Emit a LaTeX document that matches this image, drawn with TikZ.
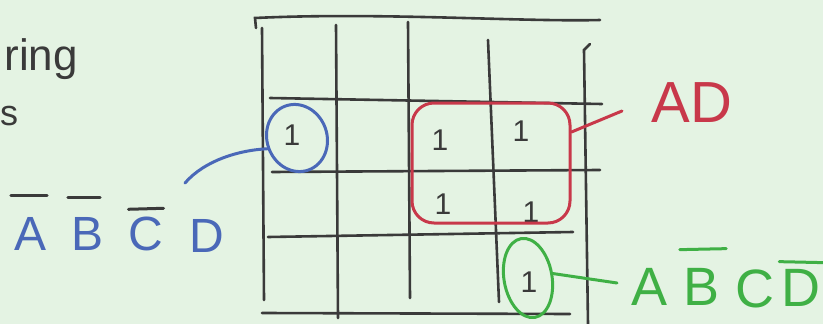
\documentclass[tikz,border=0pt]{standalone}
\usepackage{fontspec}
\setmainfont{Liberation Sans}
\usetikzlibrary{shapes.geometric}
\definecolor{paperc}{HTML}{E4F3E3}
\definecolor{pencilc}{HTML}{3A3A3A}
\definecolor{bluec}{HTML}{4A68B8}
\definecolor{redc}{HTML}{C8384A}
\definecolor{greenc}{HTML}{3FB045}
\tikzset{
  pencil/.style={draw=pencilc, line width=2.6pt, line cap=round},
  one/.style={text=pencilc, font=\fontsize{30}{30}\selectfont, inner sep=0pt},
  bluetxt/.style={text=bluec, font=\fontsize{48}{48}\selectfont, inner sep=0pt, anchor=base},
  greentxt/.style={text=greenc, font=\fontsize{54}{54}\selectfont, inner sep=0pt, anchor=base},
  redtxt/.style={text=redc, font=\fontsize{58}{58}\selectfont, inner sep=0pt, anchor=base},
  bar/.style={line width=3pt, line cap=round},
}
\begin{document}
\begin{tikzpicture}[x=1pt,y=-1pt]
\fill[paperc] (0,0) rectangle (823,324);
\useasboundingbox (0,0) rectangle (823,324);

% fragments of handwritten text at the left edge
\node[text=pencilc, font=\fontsize{44}{44}\selectfont, anchor=base east, inner sep=0pt] (frag1) at (78,70) {ring};
\node[text=pencilc, font=\fontsize{36}{36}\selectfont, anchor=base west, inner sep=0pt] (frag2) at (0,125) {s};

% K-map grid
\draw[pencil] (256,28) -- (255,18) .. controls (380,12) and (520,22) .. (600,20);
\draw[pencil] (262,28) -- (264,300);
\draw[pencil] (336,25) -- (338,318);
\draw[pencil] (408,22) -- (410,298);
\draw[pencil] (488,40) -- (499,302);
\draw[pencil] (590,44) -- (584,50) -- (588,324);
\draw[pencil] (270,98) -- (602,104);
\draw[pencil] (272,172) -- (600,170);
\draw[pencil] (268,237) -- (573,232);
\draw[pencil] (262,313) -- (570,314);

% ones
\node[one] (o1) at (292,135) {1};
\node[one] (o2) at (440,140) {1};
\node[one] (o3) at (521,131) {1};
\node[one] (o4) at (443,204) {1};
\node[one] (o5) at (531,212) {1};
\node[one] (o6) at (529,282) {1};

% groups
\node[draw=bluec, line width=3pt, ellipse, minimum width=60pt, minimum height=68pt, rotate=20] (gb) at (297,138) {};
\node[draw=redc, line width=3pt, rounded corners=22pt, minimum width=158pt, minimum height=120pt] (gr) at (491,163) {};
\node[draw=greenc, line width=3pt, ellipse, minimum width=48pt, minimum height=80pt, rotate=10] (gg) at (528,278) {};

% blue label
\node[bluetxt] (bA) at (31,250) {A};
\node[bluetxt] (bB) at (88,250) {B};
\node[bluetxt] (bC) at (146,250) {C};
\node[bluetxt] (bD) at (207,252) {D};
\draw[bar, draw=pencilc] ([xshift=-4pt,yshift=21pt]bA.north west) -- ([yshift=21pt]bA.north east);
\draw[bar, draw=pencilc] ([xshift=-4pt,yshift=19pt]bB.north west) -- ([xshift=-4pt,yshift=19pt]bB.north east);
\draw[bar, draw=pencilc] ([yshift=7pt]bC.north west) -- ([yshift=8pt]bC.north east);
\coordinate (bl) at (185,183);
\draw[bluec, line width=3pt, line cap=round] (bl) .. controls (205,160) and (240,150) .. (gb.west);

% red label
\node[redtxt] (AD) at (692,122) {AD};
\draw[redc, line width=3pt, line cap=round] (gr.east |- 0,132) -- (622,111);

% green label
\node[greentxt] (gA) at (650,305) {A};
\node[greentxt] (gB) at (702,305) {B};
\node[greentxt] (gC) at (755,307) {C};
\node[greentxt] (gD) at (801,306) {D};
\draw[greenc, bar] ([xshift=-4pt,yshift=18pt]gB.north west) -- ([xshift=6pt,yshift=19pt]gB.north east);
\draw[greenc, bar] ([xshift=-2pt,yshift=7pt]gD.north west) -- ([xshift=3pt,yshift=6pt]gD.north east);
\draw[greenc, line width=3pt, line cap=round] (gg.east) -- (617,283);
\end{tikzpicture}
\end{document}
